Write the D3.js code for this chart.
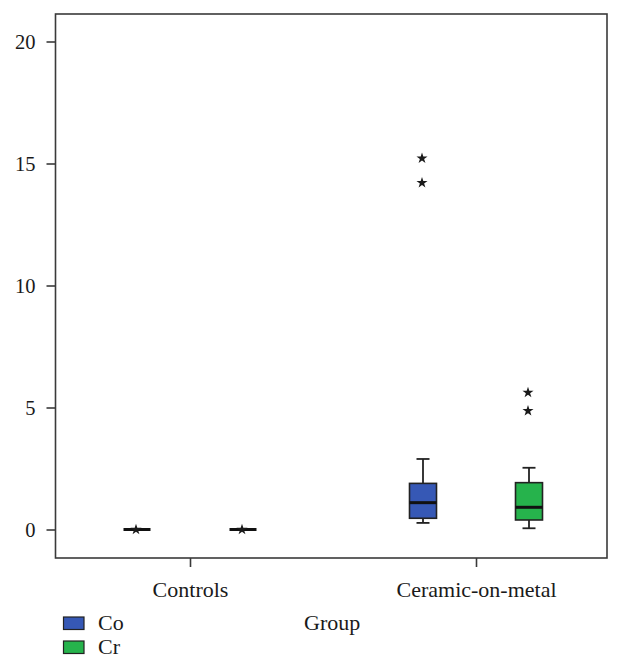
<!DOCTYPE html>
<html><head><meta charset="utf-8">
<script src="https://cdn.jsdelivr.net/npm/d3@7"></script>
<style>body{margin:0;background:#fff}svg{display:block}text{font-family:"Liberation Serif","Times New Roman",serif;fill:#1a1a1a}</style>
</head><body><svg id="c" width="622" height="668"></svg>
<script>
const groups = ["Controls", "Ceramic-on-metal"];
const metals = ["Co", "Cr"];
const colors = ["#3658b5", "#26b34c"];
const yTicks = [0, 5, 10, 15, 20];
// per group, per metal: [whiskerLow, q1, median, q3, whiskerHigh]
const coStats = [[0, 0, 0, 0, 0], [0.27, 0.46, 1.10, 1.89, 2.89]];
const crStats = [[0, 0, 0, 0, 0], [0.05, 0.39, 0.91, 1.92, 2.53]];
const coOutliers = [[0], [14.21, 15.21]];
const crOutliers = [[0], [4.86, 5.61]];
const xTitle = "Group";

const svg = d3.select("#c");
const L = 55.5, R = 607, T = 14, B = 558;
const x = d3.scalePoint().domain(groups).range([190, 476]);
const xs = d3.scalePoint().domain(metals).range([-53, 53]);
const y = d3.scaleLinear().domain([0, 20]).range([529.5, 41.5]);
const col = d3.scaleOrdinal().domain(metals).range(colors);

// frame
svg.append("rect").attr("x", L).attr("y", T).attr("width", R - L).attr("height", B - T)
  .attr("fill", "none").attr("stroke", "#3a3a3a").attr("stroke-width", 1.6);

// y axis
const ya = svg.append("g").attr("transform", `translate(${L},0)`)
  .call(d3.axisLeft(y).tickValues(yTicks).tickSize(9).tickPadding(11).tickFormat(d3.format("d")));
ya.select(".domain").remove();
ya.selectAll("line").attr("stroke", "#3a3a3a").attr("stroke-width", 1.6);
ya.selectAll("text").style("font-size", "20.5px").attr("fill", "#1a1a1a");

// x axis
const xa = svg.append("g").attr("transform", `translate(0,${B})`)
  .call(d3.axisBottom(x).tickSize(9).tickPadding(14));
xa.select(".domain").remove();
xa.selectAll("line").attr("stroke", "#3a3a3a").attr("stroke-width", 1.6);
xa.selectAll("text").style("font-size", "22px").attr("fill", "#1a1a1a");

// boxes
const data = [];
groups.forEach((g, gi) => {
  [coStats, crStats].forEach((st, mi) => {
    const s = st[gi];
    data.push({g, m: metals[mi], lo: s[0], q1: s[1], med: s[2], q3: s[3], hi: s[4],
      out: (mi === 0 ? coOutliers : crOutliers)[gi]});
  });
});
const bw = 27, cap = 13;
const bx = svg.append("g").selectAll("g").data(data).join("g")
  .attr("transform", d => `translate(${x(d.g) + xs(d.m)},0)`);
bx.filter(d => d.hi > d.q3).append("line").attr("x1", 0).attr("x2", 0)
  .attr("y1", d => y(d.q3)).attr("y2", d => y(d.hi)).attr("stroke", "#222").attr("stroke-width", 1.8);
bx.filter(d => d.lo < d.q1).append("line").attr("x1", 0).attr("x2", 0)
  .attr("y1", d => y(d.q1)).attr("y2", d => y(d.lo)).attr("stroke", "#222").attr("stroke-width", 1.8);
bx.filter(d => d.hi > d.q3).append("line").attr("x1", -cap / 2).attr("x2", cap / 2)
  .attr("y1", d => y(d.hi)).attr("y2", d => y(d.hi)).attr("stroke", "#222").attr("stroke-width", 1.8);
bx.filter(d => d.lo < d.q1).append("line").attr("x1", -cap / 2).attr("x2", cap / 2)
  .attr("y1", d => y(d.lo)).attr("y2", d => y(d.lo)).attr("stroke", "#222").attr("stroke-width", 1.8);
bx.filter(d => d.q3 > d.q1).append("rect").attr("x", -bw / 2).attr("width", bw)
  .attr("y", d => y(d.q3)).attr("height", d => y(d.q1) - y(d.q3))
  .attr("fill", d => col(d.m)).attr("stroke", "#222").attr("stroke-width", 1.6);
bx.append("line").attr("x1", -bw / 2).attr("x2", bw / 2)
  .attr("y1", d => y(d.med)).attr("y2", d => y(d.med)).attr("stroke", "#111").attr("stroke-width", 3);
const star = d3.symbol().type(d3.symbolStar).size(38);
bx.selectAll("path.o").data(d => d.out).join("path").attr("class", "o")
  .attr("d", star).attr("transform", d => `translate(-1,${y(d)})`).attr("fill", "#1a1a1a");

// legend
const lg = svg.append("g").selectAll("g").data(metals).join("g")
  .attr("transform", (d, i) => `translate(63.5,${617 + i * 24})`);
lg.append("rect").attr("width", 20.5).attr("height", 12.5).attr("fill", d => col(d))
  .attr("stroke", "#222").attr("stroke-width", 1.2);
lg.append("text").attr("x", 34.5).attr("y", 12.5).style("font-size", "22px").text(d => d);

svg.append("text").attr("x", 304).attr("y", 629.5).style("font-size", "22px").text(xTitle);
</script></body></html>
